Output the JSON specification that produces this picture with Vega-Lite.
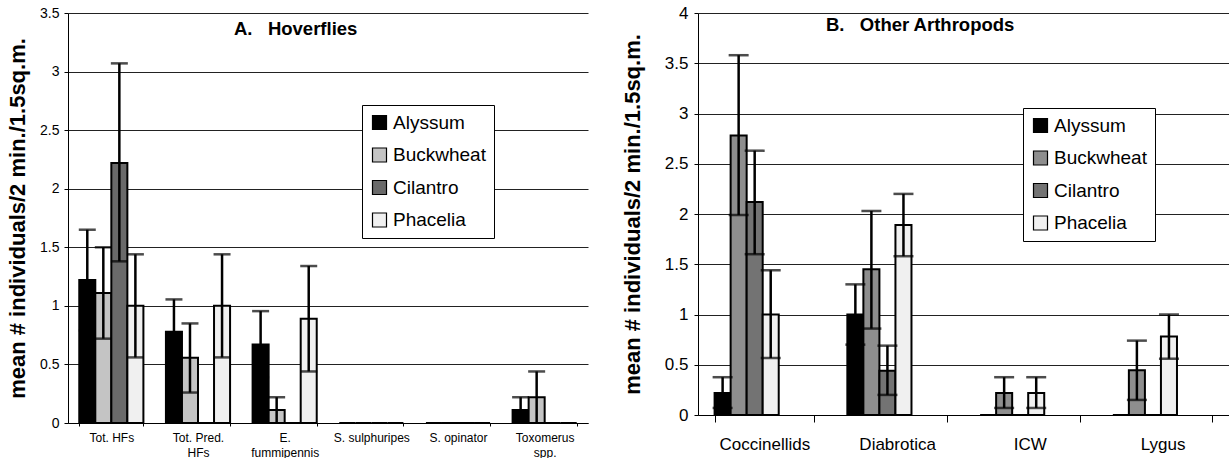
{
  "$schema": "https://vega.github.io/schema/vega-lite/v6.json",
  "background": "white",
  "padding": {"left": 6, "top": 4, "right": 0, "bottom": 0},
  "spacing": 33,
  "datasets": {
    "hover": [
      {"cat": "Tot. HFs", "cultivar": "Alyssum", "mean": 1.22, "lo": 0.79, "hi": 1.65},
      {"cat": "Tot. HFs", "cultivar": "Buckwheat", "mean": 1.11, "lo": 0.72, "hi": 1.5},
      {"cat": "Tot. HFs", "cultivar": "Cilantro", "mean": 2.22, "lo": 1.38, "hi": 3.07},
      {"cat": "Tot. HFs", "cultivar": "Phacelia", "mean": 1.0, "lo": 0.56, "hi": 1.44},
      {"cat": "Tot. Pred. HFs", "cultivar": "Alyssum", "mean": 0.78, "lo": 0.5, "hi": 1.055},
      {"cat": "Tot. Pred. HFs", "cultivar": "Buckwheat", "mean": 0.556, "lo": 0.26, "hi": 0.85},
      {"cat": "Tot. Pred. HFs", "cultivar": "Cilantro", "mean": 0, "lo": null, "hi": null},
      {"cat": "Tot. Pred. HFs", "cultivar": "Phacelia", "mean": 1.0, "lo": 0.56, "hi": 1.44},
      {"cat": "E. fummipennis", "cultivar": "Alyssum", "mean": 0.67, "lo": 0.39, "hi": 0.955},
      {"cat": "E. fummipennis", "cultivar": "Buckwheat", "mean": 0.11, "lo": 0, "hi": 0.22},
      {"cat": "E. fummipennis", "cultivar": "Cilantro", "mean": 0, "lo": null, "hi": null},
      {"cat": "E. fummipennis", "cultivar": "Phacelia", "mean": 0.89, "lo": 0.44, "hi": 1.34},
      {"cat": "S. sulphuripes", "cultivar": "Alyssum", "mean": 0, "lo": null, "hi": null},
      {"cat": "S. sulphuripes", "cultivar": "Buckwheat", "mean": 0, "lo": null, "hi": null},
      {"cat": "S. sulphuripes", "cultivar": "Cilantro", "mean": 0, "lo": null, "hi": null},
      {"cat": "S. sulphuripes", "cultivar": "Phacelia", "mean": 0, "lo": null, "hi": null},
      {"cat": "S. opinator", "cultivar": "Alyssum", "mean": 0, "lo": null, "hi": null},
      {"cat": "S. opinator", "cultivar": "Buckwheat", "mean": 0, "lo": null, "hi": null},
      {"cat": "S. opinator", "cultivar": "Cilantro", "mean": 0, "lo": null, "hi": null},
      {"cat": "S. opinator", "cultivar": "Phacelia", "mean": 0, "lo": null, "hi": null},
      {"cat": "Toxomerus spp.", "cultivar": "Alyssum", "mean": 0.11, "lo": 0, "hi": 0.22},
      {"cat": "Toxomerus spp.", "cultivar": "Buckwheat", "mean": 0.22, "lo": 0, "hi": 0.44},
      {"cat": "Toxomerus spp.", "cultivar": "Cilantro", "mean": 0, "lo": null, "hi": null},
      {"cat": "Toxomerus spp.", "cultivar": "Phacelia", "mean": 0, "lo": null, "hi": null}
    ],
    "other": [
      {"cat": "Coccinellids", "cultivar": "Alyssum", "mean": 0.22, "lo": 0.07, "hi": 0.376},
      {"cat": "Coccinellids", "cultivar": "Buckwheat", "mean": 2.78, "lo": 1.99, "hi": 3.58},
      {"cat": "Coccinellids", "cultivar": "Cilantro", "mean": 2.12, "lo": 1.6, "hi": 2.63},
      {"cat": "Coccinellids", "cultivar": "Phacelia", "mean": 1.0, "lo": 0.567, "hi": 1.44},
      {"cat": "Diabrotica", "cultivar": "Alyssum", "mean": 1.0, "lo": 0.7, "hi": 1.3},
      {"cat": "Diabrotica", "cultivar": "Buckwheat", "mean": 1.45, "lo": 0.86, "hi": 2.03},
      {"cat": "Diabrotica", "cultivar": "Cilantro", "mean": 0.44, "lo": 0.2, "hi": 0.69},
      {"cat": "Diabrotica", "cultivar": "Phacelia", "mean": 1.89, "lo": 1.58, "hi": 2.2},
      {"cat": "ICW", "cultivar": "Alyssum", "mean": 0, "lo": null, "hi": null},
      {"cat": "ICW", "cultivar": "Buckwheat", "mean": 0.22, "lo": 0.07, "hi": 0.376},
      {"cat": "ICW", "cultivar": "Cilantro", "mean": 0, "lo": null, "hi": null},
      {"cat": "ICW", "cultivar": "Phacelia", "mean": 0.22, "lo": 0.07, "hi": 0.376},
      {"cat": "Lygus", "cultivar": "Alyssum", "mean": 0, "lo": null, "hi": null},
      {"cat": "Lygus", "cultivar": "Buckwheat", "mean": 0.445, "lo": 0.15, "hi": 0.74},
      {"cat": "Lygus", "cultivar": "Cilantro", "mean": 0, "lo": null, "hi": null},
      {"cat": "Lygus", "cultivar": "Phacelia", "mean": 0.78, "lo": 0.56, "hi": 1.0}
    ],
    "titleA": [{"t": "A.\u00a0\u00a0\u00a0Hoverflies"}],
    "titleB": [{"t": "B.\u00a0\u00a0\u00a0Other Arthropods"}]
  },
  "config": {
    "font": "Liberation Sans",
    "view": {"stroke": null},
    "axis": {
      "domainColor": "black",
      "domainWidth": 1,
      "tickColor": "black",
      "labelColor": "black",
      "titleColor": "black",
      "gridColor": "#222222",
      "gridOpacity": 1,
      "gridWidth": 1
    },
    "legend": {
      "orient": "none",
      "strokeColor": "black",
      "fillColor": "white",
      "padding": 8,
      "symbolType": "square",
      "symbolSize": 196,
      "symbolStrokeColor": "black",
      "symbolStrokeWidth": 1.2,
      "symbolOpacity": 1,
      "labelFontSize": 19,
      "labelColor": "black",
      "rowPadding": 12.5,
      "labelOffset": 4,
      "cornerRadius": 0
    }
  },
  "resolve": {
    "scale": {"color": "independent", "x": "independent", "y": "independent"},
    "legend": {"color": "independent"}
  },
  "hconcat": [
    {
      "width": 520,
      "height": 410,
      "data": {"name": "hover"},
      "layer": [
        {
          "mark": {"type": "bar", "stroke": "black", "strokeWidth": 2},
          "encoding": {
            "x": {
              "field": "cat", "type": "nominal",
              "sort": ["Tot. HFs", "Tot. Pred. HFs", "E. fummipennis", "S. sulphuripes", "S. opinator", "Toxomerus spp."],
              "scale": {"paddingInner": 0.26, "paddingOuter": 0.13},
              "axis": {
                "title": null, "labelAngle": 0, "labelFontSize": 12, "labelLineHeight": 15,
                "tickBand": "extent", "tickSize": 3, "labelPadding": 6, "labelOverlap": false, "labelLimit": 0,
                "labelBaseline": "top",
                "labelExpr": "datum.label == 'Tot. Pred. HFs' ? ['Tot. Pred.', 'HFs'] : datum.label == 'E. fummipennis' ? ['E.', 'fummipennis'] : datum.label == 'Toxomerus spp.' ? ['Toxomerus', 'spp.'] : datum.label"
              }
            },
            "xOffset": {
              "field": "cultivar", "type": "nominal",
              "sort": ["Alyssum", "Buckwheat", "Cilantro", "Phacelia"],
              "scale": {"paddingInner": 0, "paddingOuter": 0}
            },
            "y": {
              "field": "mean", "type": "quantitative",
              "scale": {"domain": [0, 3.5], "nice": false},
              "axis": {
                "title": "mean # individuals/2 min./1.5sq.m.",
                "titleFontSize": 22, "titleFontWeight": "bold", "titlePadding": 10,
                "labelFontSize": 14, "tickSize": 4, "labelPadding": 5,
                "values": [0, 0.5, 1, 1.5, 2, 2.5, 3, 3.5], "format": "~g", "grid": true
              }
            },
            "color": {
              "field": "cultivar", "type": "nominal",
              "scale": {"domain": ["Alyssum", "Buckwheat", "Cilantro", "Phacelia"], "range": ["#000000", "#c4c4c4", "#6a6a6a", "#f0f0f0"]},
              "legend": {"title": null, "legendX": 294, "legendY": 92}
            }
          }
        },
        {
          "transform": [{"filter": "isValid(datum.hi)"}],
          "mark": {"type": "rule", "color": "black", "strokeWidth": 2.5},
          "encoding": {
            "x": {"field": "cat", "type": "nominal", "sort": ["Tot. HFs", "Tot. Pred. HFs", "E. fummipennis", "S. sulphuripes", "S. opinator", "Toxomerus spp."]},
            "xOffset": {"field": "cultivar", "type": "nominal", "sort": ["Alyssum", "Buckwheat", "Cilantro", "Phacelia"]},
            "y": {"field": "lo", "type": "quantitative"},
            "y2": {"field": "hi"}
          }
        },
        {
          "transform": [{"filter": "isValid(datum.hi)"}],
          "mark": {"type": "tick", "color": "black", "thickness": 2.5, "size": 17, "orient": "horizontal"},
          "encoding": {
            "x": {"field": "cat", "type": "nominal", "sort": ["Tot. HFs", "Tot. Pred. HFs", "E. fummipennis", "S. sulphuripes", "S. opinator", "Toxomerus spp."]},
            "xOffset": {"field": "cultivar", "type": "nominal", "sort": ["Alyssum", "Buckwheat", "Cilantro", "Phacelia"]},
            "y": {"field": "hi", "type": "quantitative"}
          }
        },
        {
          "transform": [{"filter": "isValid(datum.lo) && datum.lo > 0"}],
          "mark": {"type": "tick", "color": "black", "thickness": 2.5, "size": 17, "orient": "horizontal"},
          "encoding": {
            "x": {"field": "cat", "type": "nominal", "sort": ["Tot. HFs", "Tot. Pred. HFs", "E. fummipennis", "S. sulphuripes", "S. opinator", "Toxomerus spp."]},
            "xOffset": {"field": "cultivar", "type": "nominal", "sort": ["Alyssum", "Buckwheat", "Cilantro", "Phacelia"]},
            "y": {"field": "lo", "type": "quantitative"}
          }
        },
        {
          "data": {"name": "titleA"},
          "mark": {"type": "text", "fontWeight": "bold", "fontSize": 18.5, "dx": 11, "baseline": "middle", "color": "black"},
          "encoding": {
            "x": {"datum": "E. fummipennis", "type": "nominal"},
            "y": {"datum": 3.36, "type": "quantitative"},
            "text": {"field": "t"}
          }
        }
      ]
    },
    {
      "width": 531,
      "height": 402,
      "data": {"name": "other"},
      "layer": [
        {
          "mark": {"type": "bar", "stroke": "black", "strokeWidth": 2},
          "encoding": {
            "x": {
              "field": "cat", "type": "nominal",
              "sort": ["Coccinellids", "Diabrotica", "ICW", "Lygus"],
              "scale": {"paddingInner": 0.25, "paddingOuter": 0.125},
              "axis": {
                "title": null, "labelAngle": 0, "labelFontSize": 17,
                "tickBand": "extent", "tickSize": 7, "labelPadding": 14, "labelOverlap": false, "labelLimit": 0
              }
            },
            "xOffset": {
              "field": "cultivar", "type": "nominal",
              "sort": ["Alyssum", "Buckwheat", "Cilantro", "Phacelia"],
              "scale": {"paddingInner": 0, "paddingOuter": 0}
            },
            "y": {
              "field": "mean", "type": "quantitative",
              "scale": {"domain": [0, 4], "nice": false},
              "axis": {
                "title": "mean # individuals/2 min./1.5sq.m.",
                "titleFontSize": 22, "titleFontWeight": "bold", "titlePadding": 20,
                "labelFontSize": 17, "tickSize": 4, "labelPadding": 6,
                "values": [0, 0.5, 1, 1.5, 2, 2.5, 3, 3.5, 4], "format": "~g", "grid": true
              }
            },
            "color": {
              "field": "cultivar", "type": "nominal",
              "scale": {"domain": ["Alyssum", "Buckwheat", "Cilantro", "Phacelia"], "range": ["#000000", "#8e8e8e", "#737373", "#f0f0f0"]},
              "legend": {"title": null, "legendX": 325, "legendY": 95}
            }
          }
        },
        {
          "transform": [{"filter": "isValid(datum.hi)"}],
          "mark": {"type": "rule", "color": "black", "strokeWidth": 2.5},
          "encoding": {
            "x": {"field": "cat", "type": "nominal", "sort": ["Coccinellids", "Diabrotica", "ICW", "Lygus"]},
            "xOffset": {"field": "cultivar", "type": "nominal", "sort": ["Alyssum", "Buckwheat", "Cilantro", "Phacelia"]},
            "y": {"field": "lo", "type": "quantitative"},
            "y2": {"field": "hi"}
          }
        },
        {
          "transform": [{"filter": "isValid(datum.hi)"}],
          "mark": {"type": "tick", "color": "black", "thickness": 2.5, "size": 20, "orient": "horizontal"},
          "encoding": {
            "x": {"field": "cat", "type": "nominal", "sort": ["Coccinellids", "Diabrotica", "ICW", "Lygus"]},
            "xOffset": {"field": "cultivar", "type": "nominal", "sort": ["Alyssum", "Buckwheat", "Cilantro", "Phacelia"]},
            "y": {"field": "hi", "type": "quantitative"}
          }
        },
        {
          "transform": [{"filter": "isValid(datum.lo) && datum.lo > 0"}],
          "mark": {"type": "tick", "color": "black", "thickness": 2.5, "size": 20, "orient": "horizontal"},
          "encoding": {
            "x": {"field": "cat", "type": "nominal", "sort": ["Coccinellids", "Diabrotica", "ICW", "Lygus"]},
            "xOffset": {"field": "cultivar", "type": "nominal", "sort": ["Alyssum", "Buckwheat", "Cilantro", "Phacelia"]},
            "y": {"field": "lo", "type": "quantitative"}
          }
        },
        {
          "data": {"name": "titleB"},
          "mark": {"type": "text", "fontWeight": "bold", "fontSize": 18.5, "dx": 23, "baseline": "middle", "color": "black"},
          "encoding": {
            "x": {"datum": "Diabrotica", "type": "nominal"},
            "y": {"datum": 3.88, "type": "quantitative"},
            "text": {"field": "t"}
          }
        }
      ]
    }
  ]
}
